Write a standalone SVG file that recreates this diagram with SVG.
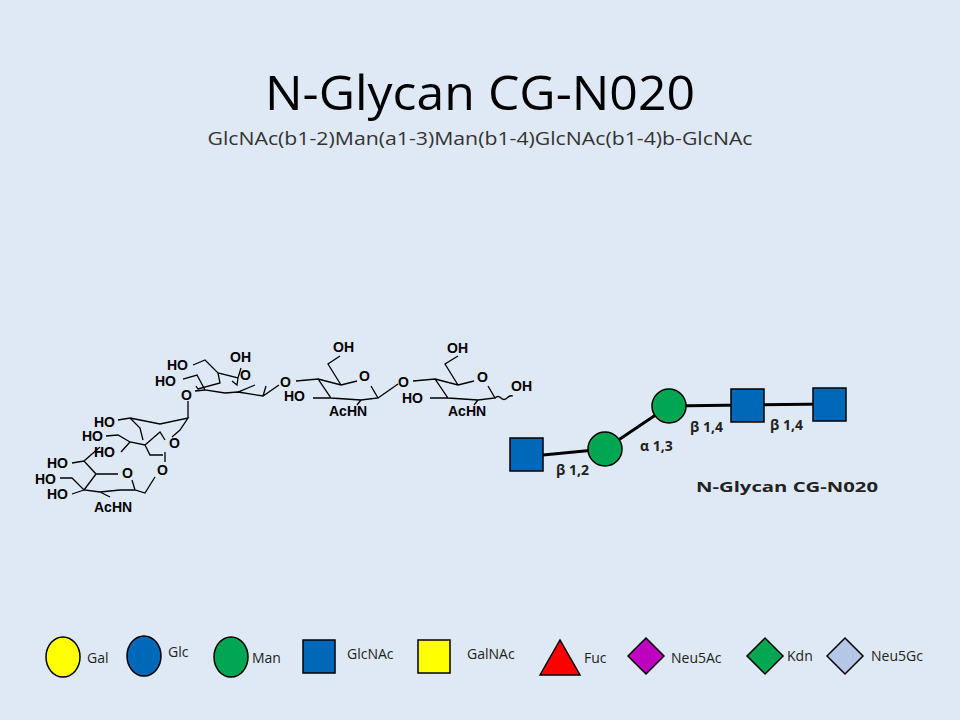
<svg xmlns="http://www.w3.org/2000/svg" width="960" height="720" viewBox="0 0 960 720">
<style>
.t{font-family:"Open Sans","Liberation Sans",sans-serif}
.c{font-family:"Liberation Sans",Arial,sans-serif;font-weight:bold;font-size:14px;fill:#000}
.b{stroke:#000;stroke-width:1.3;fill:none}
.lk{stroke:#000;stroke-width:3;fill:none}
.lg{font-family:"Open Sans","Liberation Sans",sans-serif;font-size:14px;fill:#222}
.sym{stroke:#000;stroke-width:1.5}
.lb{font-family:"Open Sans","Liberation Sans",sans-serif;font-weight:bold;font-size:14px;fill:#222}
</style>
<rect width="960" height="720" fill="#dfe9f5"/>
<text class="t" x="480" y="110" font-size="48" text-anchor="middle" textLength="430" lengthAdjust="spacingAndGlyphs" fill="#000">N-Glycan CG-N020</text>
<text class="t" x="480" y="145" font-size="19" text-anchor="middle" textLength="545" lengthAdjust="spacingAndGlyphs" fill="#333">GlcNAc(b1-2)Man(a1-3)Man(b1-4)GlcNAc(b1-4)b-GlcNAc</text>

<g id="structure">
<g class="b">
<path d="M413,381 L435,379 L448,398 L478,400 L495,398 L488,386 M435,379 L458,385 L474,381 M458,385 L445,364 L458,356 M448,398 L430,398 M478,400 L474,405 M495,398 q3,-3 6,0 q3,3 6,0 q3,-3 6,-2"/>
<path d="M296,381 L318,379 L331,398 L361,400 L378,398 L371,386 M318,379 L341,385 L357,381 M341,385 L328,364 L340,356 M331,398 L313,398 M361,400 L357,405 M378,398 L398,384"/>
<path d="M193,365 L205,360 L218,373 L238,378 L241,368 M238,378 L237,385 L232,381 M218,373 L220,383 L198,389 L196,386 M183,379 L197,375 L205,390 L225,393 L238,392 L255,385 M238,392 L263,396 L279,385 M205,390 L195,391 M263,396 L266,386"/>
<path d="M188,401 L188,418 M118,420 L130,418 L140,428 L143,440 M130,418 L160,424 L188,418 L180,430 L172,437 M106,436 L118,435 L130,442 L145,445 L160,432 L165,440 M121,452 L130,442 M145,445 L150,455 L163,455 M165,452 L165,462"/>
<path d="M72,463 L84,461 L96,474 L118,474 M84,461 L100,447 M60,478 L72,478 L84,490 L100,492 L120,490 L135,490 L145,493 L155,477 M72,494 L84,490 M100,492 L110,497 M135,490 L132,480 M96,474 L84,490"/>
</g>
<text class="c" x="447" y="353">OH</text>
<text class="c" x="477" y="382">O</text>
<text class="c" x="511" y="391">OH</text>
<text class="c" x="402" y="403">HO</text>
<text class="c" x="448" y="416">AcHN</text>
<text class="c" x="398" y="387">O</text>
<text class="c" x="333" y="352">OH</text>
<text class="c" x="359" y="381">O</text>
<text class="c" x="284" y="401">HO</text>
<text class="c" x="329" y="416">AcHN</text>
<text class="c" x="280" y="387">O</text>
<text class="c" x="167" y="370">HO</text>
<text class="c" x="155" y="386">HO</text>
<text class="c" x="230" y="362">OH</text>
<text class="c" x="240" y="380">O</text>
<text class="c" x="181" y="400">O</text>
<text class="c" x="94" y="427">HO</text>
<text class="c" x="82" y="441">HO</text>
<text class="c" x="94" y="457">HO</text>
<text class="c" x="169" y="448">O</text>
<text class="c" x="157" y="475">O</text>
<text class="c" x="47" y="468">HO</text>
<text class="c" x="35" y="484">HO</text>
<text class="c" x="47" y="499">HO</text>
<text class="c" x="122" y="478">O</text>
<text class="c" x="94" y="512">AcHN</text>
</g>

<g id="connectors">
<path class="lk" d="M543,455 L605,449 M605,449 L669,406 M669,406 L829,404"/>
</g>
<g id="n-glcnac1"><rect class="sym" x="510" y="438" width="33" height="33" fill="#0068b8"/></g>
<g id="n-man1"><circle class="sym" cx="605" cy="449" r="17" fill="#00a651"/></g>
<g id="n-man2"><circle class="sym" cx="669" cy="406" r="17" fill="#00a651"/></g>
<g id="n-glcnac2"><rect class="sym" x="731" y="389" width="33" height="33" fill="#0068b8"/></g>
<g id="n-glcnac3"><rect class="sym" x="813" y="388" width="33" height="33" fill="#0068b8"/></g>
<g id="labels">
<text class="lb" x="556" y="475">β 1,2</text>
<text class="lb" x="640" y="451">α 1,3</text>
<text class="lb" x="690" y="432">β 1,4</text>
<text class="lb" x="770" y="430">β 1,4</text>
<text class="lb" x="787" y="492" text-anchor="middle" font-size="17" textLength="182" lengthAdjust="spacingAndGlyphs" fill="#111">N-Glycan CG-N020</text>
</g>

<g id="legend">
<ellipse class="sym" cx="63" cy="657" rx="17" ry="20" fill="#ffff00"/><text class="lg" x="87" y="663">Gal</text>
<ellipse class="sym" cx="144" cy="656" rx="17" ry="20" fill="#0068b8"/><text class="lg" x="168" y="657">Glc</text>
<ellipse class="sym" cx="231" cy="657" rx="17" ry="20" fill="#00a651"/><text class="lg" x="252" y="663">Man</text>
<rect class="sym" x="303" y="640" width="32" height="33" fill="#0068b8"/><text class="lg" x="347" y="659">GlcNAc</text>
<rect class="sym" x="418" y="640" width="32" height="33" fill="#ffff00"/><text class="lg" x="467" y="659">GalNAc</text>
<polygon class="sym" points="540,675 560,640 580,675" fill="#ff0000"/><text class="lg" x="584" y="663">Fuc</text>
<polygon class="sym" points="646,638 664,656 646,674 628,656" fill="#c000c0"/><text class="lg" x="671" y="663">Neu5Ac</text>
<polygon class="sym" points="765,638 783,656 765,674 747,656" fill="#00a651"/><text class="lg" x="787" y="661">Kdn</text>
<polygon class="sym" points="845,638 863,656 845,674 827,656" fill="#b4c7e7"/><text class="lg" x="871" y="661">Neu5Gc</text>
</g>
</svg>
